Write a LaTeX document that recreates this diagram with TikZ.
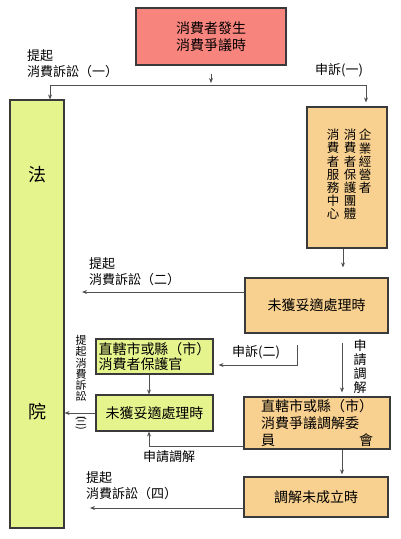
\documentclass[tikz,border=0pt]{standalone}
\usepackage{fontspec}
\usepackage{graphicx}
\setmainfont{Noto Sans CJK TC}
\usetikzlibrary{arrows.meta}
\definecolor{salmon}{HTML}{F8847E}
\definecolor{limefill}{HTML}{E6F48E}
\definecolor{peach}{HTML}{F8D08F}
\definecolor{edgec}{HTML}{3A3A3A}
\definecolor{wirec}{HTML}{505050}
\lineskiplimit=-20pt
\lineskip=0pt
\newcommand\vparen[1]{\rotatebox[origin=c]{-90}{#1}}
\begin{document}
\begin{tikzpicture}[x=1pt,y=-1pt,
  box/.style={draw=edgec,line width=1.1pt,inner sep=0pt},
  btxt/.style={font=\fontsize{14}{17}\selectfont,align=center},
  lbl/.style={font=\fontsize{13}{16}\selectfont,inner sep=0pt},
  vtxt/.style={align=center,inner sep=0pt},
  col/.style={vtxt,font=\fontsize{12.5}{13.2}\selectfont,anchor=north},
  wire/.style={draw=wirec,line width=0.9pt},
  arr/.style={wire,-{Stealth[length=5pt,width=4pt]}}]
\useasboundingbox (0,0) rectangle (400,539);

% boxes
\node[box,fill=salmon,minimum width=150pt,minimum height=57pt,btxt] (top) at (211,36.5) {消費者發生\\消費爭議時};
\node[box,fill=limefill,minimum width=54pt,minimum height=428pt] (court) at (37,314) {};
\node[font=\fontsize{18}{18}\selectfont,inner sep=0pt] (fa) at (37,175) {法};
\node[font=\fontsize{18}{18}\selectfont,inner sep=0pt] (yuan) at (37,412) {院};
\node[box,fill=peach,minimum width=80pt,minimum height=141pt] (org) at (347,177.5) {};
\node[col] (c1) at (365,129) {企\\業\\經\\營\\者};
\node[col] (c2) at (350,129) {消\\費\\者\\保\\護\\團\\體};
\node[col] (c3) at (333,129) {消\\費\\者\\服\\務\\中\\心};
\node[box,fill=peach,minimum width=143pt,minimum height=55pt,btxt] (unh1) at (316.5,305.5) {未獲妥適處理時};
\node[box,fill=limefill,minimum width=117pt,minimum height=35pt,btxt,align=left,font=\fontsize{14}{15.5}\selectfont] (off) at (154.5,356.5) {直轄市或縣（市）\\消費者保護官};
\node[box,fill=limefill,minimum width=117pt,minimum height=36pt,btxt] (unh2) at (154.5,413) {未獲妥適處理時};
\node[box,fill=peach,minimum width=146pt,minimum height=52pt,btxt,align=left] (com) at (317,423) {直轄市或縣（市）\\消費爭議調解委\\員\hspace{6em}會};
\node[box,fill=peach,minimum width=144pt,minimum height=40pt,btxt] (fail) at (316,497) {調解未成立時};

% connectors
\coordinate (jl) at (50,85);
\coordinate (jm) at (211,85);
\coordinate (jr) at (366,85);
\draw[arr,shorten <=8pt,shorten >=2pt] (top.south) -- (jm);
\draw[wire] (jl) -- (jr);
\draw[arr] (jl) -- (jl |- court.north);
\draw[arr,shorten >=4pt] (jr) -- (jr |- org.north);
\draw[arr,shorten >=10pt] ([xshift=-4pt]org.south) -- ([xshift=-4pt]org.south |- unh1.north);
\coordinate (t2) at (82,292);
\draw[arr] (unh1.west |- t2) -- (t2);
\coordinate (v1) at (342,0);
\draw[arr,shorten <=9pt,shorten >=4pt] (v1 |- unh1.south) -- (v1 |- com.north);
\coordinate (s2) at (297,345);
\coordinate (s2b) at (297,365);
\draw[arr,shorten >=5pt] (s2) -- (s2b) -- (s2b -| off.east);
\draw[arr] ([xshift=-5.5pt]off.south) -- ([xshift=-5.5pt]unh2.north);
\draw[arr] (unh2.west) -- (unh2.west -| court.east);
\coordinate (m1) at (149,446);
\draw[arr] (com.west |- m1) -| ([xshift=-5.5pt]unh2.south);
\draw[arr,shorten >=2pt] (v1 |- com.south) -- (v1 |- fail.north);
\coordinate (t4) at (90,508);
\draw[arr] (fail.west |- t4) -- (t4);

% labels
\node[lbl,anchor=west,align=left] (l1) at (27,64) {提起\\消費訴訟（一）};
\node[lbl] (l1r) at (339,70) {申訴(一)};
\node[lbl,anchor=west,align=left] (l2) at (89,272) {提起\\消費訴訟（二）};
\node[vtxt,font=\fontsize{13}{14}\selectfont] (lv) at (360,367) {申\\請\\調\\解};
\node[lbl] (ls2) at (256,352) {申訴(二)};
\node[vtxt,font=\fontsize{11}{11.3}\selectfont,anchor=north] (l3) at (81,335) {提\\起\\消\\費\\訴\\訟};
\node[vtxt,font=\fontsize{11}{5}\selectfont,anchor=north] (l3b) at (81,416) {\vparen{(}\\[-1pt]三\\[1pt]\vparen{)}};
\node[lbl] (lm) at (169,457) {申請調解};
\node[lbl,anchor=west,align=left] (l4) at (86,486) {提起\\消費訴訟（四）};
\end{tikzpicture}
\end{document}
